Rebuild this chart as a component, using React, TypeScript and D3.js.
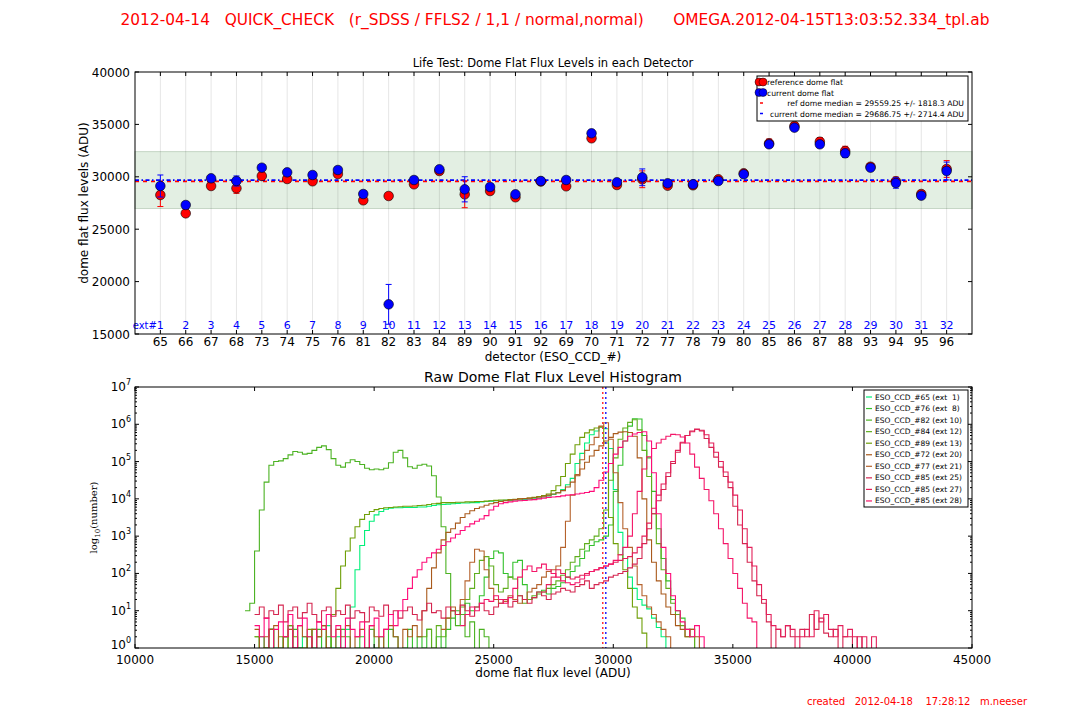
import React from 'react';
import * as d3 from 'd3';

// ---------- top panel data ----------
const detectors = [65, 66, 67, 68, 73, 74, 75, 76, 81, 82, 83, 84, 89, 90, 91, 92, 69, 70, 71, 72, 77, 78, 79, 80, 85, 86, 87, 88, 93, 94, 95, 96];
const extNums = [1, 2, 3, 4, 5, 6, 7, 8, 9, 10, 11, 12, 13, 14, 15, 16, 17, 18, 19, 20, 21, 22, 23, 24, 25, 26, 27, 28, 29, 30, 31, 32];
const refFlux = [28263, 26514, 29122, 28900, 30077, 29790, 29570, 30267, 27757, 28168, 29284, 30553, 28330, 28645, 28044, 29550, 29093, 33673, 29217, 29762, 29150, 29188, 29762, 30335, 33197, 34847, 33350, 32462, 30965, 29570, 28358, 30745];
const refErr = [1100, 120, 200, 480, 200, 200, 150, 200, 200, 200, 200, 150, 1280, 250, 200, 150, 250, 300, 300, 800, 250, 200, 250, 200, 400, 350, 400, 450, 300, 400, 300, 800];
const curFlux = [29122, 27309, 29855, 29600, 30870, 30425, 30172, 30649, 28358, 17830, 29695, 30715, 28807, 29027, 28330, 29600, 29695, 34150, 29475, 29952, 29380, 29284, 29600, 30240, 33100, 34690, 33100, 32242, 30870, 29410, 28200, 30553];
const curErr = [1050, 120, 200, 480, 200, 250, 150, 150, 250, 1900, 150, 150, 1200, 250, 200, 200, 200, 300, 250, 800, 200, 150, 200, 250, 300, 300, 300, 400, 300, 500, 300, 850];
const refMedian = 29559.25;
const refStd = 1818.3;
const curMedian = 29686.75;
const curStd = 2714.4;
const topYTicks = [15000, 20000, 25000, 30000, 35000, 40000];

// ---------- histogram data (log10 of counts, 200 ADU bins; -1 = empty bin) ----------
const BIN = 200;
const h65 = [-1, 0.3, -1, 0.5, 0, -1, 0.3, 0.6, -1, 0, 0.3, -1, 0.5, 0.3, -1, 0.6, 0, 0.3, -1, 0.5,
  1.1, 2.1, 2.75, 3.15, 3.4, 3.57, 3.66, 3.72, 3.75, 3.76, 3.76, 3.77, 3.77, 3.77, 3.78, 3.78, 3.8, 3.82, 3.84, 3.85,
  3.86, 3.87, 3.88, 3.89, 3.89, 3.9, 3.9, 3.92, 3.93, 3.94, 3.95, 3.95, 3.96, 3.96, 3.97, 3.97, 3.98, 3.99, 4.0, 4.02,
  4.05, 4.08, 4.12, 4.17, 4.25, 4.38, 4.55, 4.95, 5.22, 5.5, 5.72, 5.82, 5.92, 5.88, 5.35, 4.25, 3.1, 2.4, 1.9, 1.6,
  1.3, 1.15, 1.05, 0.8, 0.55, 0.3, -1];
const h76 = [0.3, -1, 0, 0.5, -1, 0, 0.3, -1, 0.5, 0, -1, 0.3, 0, 0.5, -1, 0.3, -1, 0, 0.5, 0.3,
  -1, 0, 0.3, -1, 0.5, 0, 0.3, -1, 0.5, 0.3, -1, 0, 0.5, -1, 0.3, 0, 0.5, -1, 0.3, 0,
  0.5, 0.8, 1.0, 0.9, 1.2, 1.0, 1.1, 1.4, 1.9, 2.4, 2.6, 2.55, 2.0, 1.9, 2.3, 2.35, 1.7, 1.3, 1.35, 1.5,
  1.55, 1.45, 1.6, 1.65, 1.75, 1.9, 2.05, 2.2, 2.4, 2.6, 2.75, 2.85, 2.9, 3.0, 3.3, 4.2, 4.9, 5.55, 5.95, 6.15,
  6.14, 5.7, 5.1, 4.2, 3.2, 2.4, 1.8, 1.3, 1.0, 0.8, 0.5, 0.3, -1];
const h82 = [1.0, 1.2, 2.6, 3.7, 4.45, 4.9, 5.0, 5.02, 5.08, 5.18, 5.27, 5.25, 5.2, 5.22, 5.3, 5.38, 5.42, 5.32, 5.08, 4.9,
  4.85, 4.97, 5.05, 5.0, 4.92, 4.82, 4.78, 4.8, 4.78, 4.82, 4.97, 5.25, 5.3, 5.1, 4.86, 4.82, 4.9, 4.93, 4.88, 4.62,
  4.05, 3.25, 2.0, 1.0, 0.6, 0.9, 0.3, 0.7, -1, 0.5, 0.3, -1];
const h84 = [0.3, 0.5, 0, 0.6, 0.3, 0.8, 1.0, 0.9, 1.1, 1.3, 1.6, 2.0, 2.35, 2.45, 2.2, 1.7, 1.5, 1.6, 1.9, 1.85,
  1.4, 1.2, 1.3, 1.4, 1.45, 1.5, 1.6, 1.7, 1.8, 1.95, 2.1, 2.3, 2.45, 2.65, 2.8, 2.9, 3.0, 3.2, 3.7, 4.5,
  5.1, 5.6, 5.9, 6.05, 6.12, 5.85, 5.3, 4.6, 3.6, 2.8, 2.1, 1.6, 1.2, 0.9, 0.6, 0.3, 0.5, -1];
const h89 = [0.3, -1, 0, 0.5, -1, 0.3, -1, 0.6, 0.3, -1, 0, 0.5, -1, 0.3, 0.6, -1,
  0.9, 1.6, 2.2, 2.6, 2.95, 3.25, 3.45, 3.58, 3.66, 3.71, 3.74, 3.76, 3.77, 3.78, 3.79, 3.8, 3.8, 3.81, 3.82, 3.83,
  3.85, 3.87, 3.88, 3.9, 3.9, 3.9, 3.91, 3.91, 3.92, 3.92, 3.93, 3.93, 3.94, 3.95, 3.96, 3.97, 3.97, 3.98, 3.99, 4.0,
  4.01, 4.02, 4.04, 4.06, 4.09, 4.13, 4.22, 4.35, 4.6, 4.95, 5.2, 5.45, 5.65, 5.77, 5.85, 5.9, 5.93, 5.5, 3.5, 2.8,
  2.5, 2.1, 1.6, 1.1, 0.8, 0.4, -1];
const h72 = [0.5, -1, 0.3, 0.5, 0.6, -1, 0.3, 0.5, 0, 0.6, 0.3, -1, 0.5, 0.3, 0.6, 0, -1, 0.5, 0.3, 0.6,
  -1, 0.3, 0.5, 0, 0.6, 0.3, -1, 0.5, 0.6, 0.3, -1, 0.5, 0.3, 0.6, 0.3,
  1.0, 1.6, 2.15, 2.55, 2.9, 3.1, 3.2, 3.35, 3.5, 3.6, 3.68, 3.74, 3.78, 3.83, 3.87, 3.9, 3.93, 3.95, 3.97, 3.98,
  4.0, 4.01, 4.02, 4.03, 4.05, 4.07, 4.1, 4.13, 4.16, 4.22, 4.32, 4.45, 4.62, 4.8, 4.98, 5.15, 5.3, 5.42, 5.55, 5.65,
  5.75, 5.79, 5.8, 5.78, 5.68, 5.1, 4.0, 2.9, 2.3, 1.8, 1.45, 1.1, 0.9, 0.6, 0.5, 0.3, 0.5, 0.3, -1];
const h77 = [0.5, 0.8, 1.1, 0.9, 1.3, 1.8, 2.3, 2.65, 2.6, 2.1, 1.6, 1.3, 1.2, 1.25, 1.4, 1.3, 1.2, 1.3, 1.5, 1.6,
  1.7, 1.9, 2.05, 2.1, 2.2, 2.7, 3.4, 4.1, 4.65, 5.05, 5.3, 5.45, 5.65, 5.95, 6.04, 5.6, 4.7, 3.9, 3.2, 2.7,
  2.2, 1.7, 1.4, 1.1, 0.9, 0.7, 0.5, 0.3, -1];
const h85a = [0.9, 1.1, 0.8, 1.0, 0.9, 1.15, 0.7, 1.0, 1.1, 0.8, 0.95, 1.2, 0.9, 0.7, 1.0, 1.1, 0.85, 1.0, 0.9, 1.15,
  0.8, 1.0, 0.95, 0.7, 1.1, 1.0, 0.85, 1.15, 0.9, 1.0, 0.8, 1.0, 1.1, 0.9, 0.75, 1.0, 1.2, 0.95, 1.0, 0.8,
  1.1, 1.0, 0.9, 1.15, 1.0, 0.85, 1.1, 1.2, 1.0, 0.9, 1.1, 1.2, 1.3, 1.1, 1.25, 1.4, 1.3, 1.2, 1.35, 1.5,
  1.4, 1.3, 1.45, 1.5, 1.6, 1.55, 1.5, 1.65, 1.7, 1.8,
  1.6, 1.7, 1.75, 1.8, 1.9, 1.95, 2.0, 2.05, 2.15, 2.25, 2.4, 2.8, 3.2, 3.6, 3.95, 4.25, 4.6, 4.95, 5.25, 5.5,
  5.7, 5.82, 5.87, 5.82, 5.62, 5.38, 5.12, 4.85, 4.6, 4.3, 3.8, 3.3, 2.8, 2.3, 1.8, 1.4, 1.2, 0.7, -1, 0.5,
  0.3, 0.6, 0.3, 0.3, 0.5, 0.3, 0.9, 0.5, 0.8, 0.4, 0.3, 0.5, -1, 0.3, 0.3, -1, 0.3, -1];
const h85b = [1.5, 1.7, 1.9, 2.1, 2.0, 1.9, 1.85, 1.9, 1.95, 2.0, 2.05, 2.1, 2.15, 2.2, 2.25, 2.3, 2.35, 2.4, 2.45, 2.55,
  2.7, 3.0, 3.35, 3.75, 4.1, 4.4, 4.7, 5.0, 5.3, 5.52, 5.7, 5.8, 5.86, 5.84, 5.72, 5.5, 5.25, 5.0, 4.72, 4.45,
  4.1, 3.7, 3.2, 2.7, 2.2, 1.7, 1.3, 0.9, 0.6, 0.5, 0.3, 0.6, 0.5, -1, 0.3, 0.5, 0.3, 1.0, 0.7, 0.9,
  0.5, 0.3, 0.6, 0.3, 0.5, 0.3, -1, 0.3, -1, 0.3, -1];
const h85c = [0.6, 0.9, 1.1, 1.0, 1.2, 1.3, 1.25, 1.4, 1.3, 1.2, 1.35, 1.6, 1.9, 2.1, 2.2, 2.05, 2.15, 2.25, 2.1, 2.0,
  1.9, 1.8, 1.75, 1.7, 1.75, 1.85, 1.95, 2.05, 2.1, 2.15, 2.2, 2.25, 2.35, 2.5, 2.7, 3.0, 3.6, 4.2, 4.8, 5.13,
  5.35, 5.5, 5.6, 5.68, 5.73, 5.72, 5.66, 5.5, 5.2, 4.85, 4.55, 4.25, 3.95, 3.6, 3.2, 2.8, 2.4, 2.0, 1.6, 1.2,
  0.8, 0.7, -1];
const hPink = [0.6, 0.3, 0.8, -1, 0.5, 0.7, 0.3, 0.9, 0, 0.6, 0.8, 0.3, -1, 0.7, 0.5, 0.9, 0.3, 0.6, 0, 0.8,
  0.5, 0.3, 0.7, -1, 0.6, 0.8, 0.3, 0.5, 0.9, 0.6,
  1.0, 1.3, 1.6, 1.9, 2.1, 2.3, 2.42, 2.55, 2.65, 2.75, 2.85, 2.95, 3.05, 3.15, 3.25, 3.33, 3.4, 3.46, 3.55, 3.7,
  3.8, 3.87, 3.9, 3.92, 3.94, 3.95, 3.96, 3.97, 3.98, 4.0, 4.02, 4.04, 4.05, 4.06, 4.08, 4.1, 4.11, 4.13, 4.15, 4.17,
  4.2, 4.3, 4.5, 4.72, 4.95, 5.2, 5.38, 5.55, 5.68, 5.74, 5.78, 5.8, 5.55, 4.7, 3.6, 2.7, 2.0, 1.4, 1.0, 0.7,
  0.5, 0.3, 0.6, 0.3, -1];

const histSeries = [
  { label: 'ESO_CCD_#65 (ext  1)', start: 15000, logs: h65, color: '#00f07a' },
  { label: 'ESO_CCD_#76 (ext  8)', start: 15000, logs: h76, color: '#33c12c' },
  { label: 'ESO_CCD_#82 (ext 10)', start: 14600, logs: h82, color: '#4bb222' },
  { label: 'ESO_CCD_#84 (ext 12)', start: 22000, logs: h84, color: '#5fae1e' },
  { label: 'ESO_CCD_#89 (ext 13)', start: 15000, logs: h89, color: '#6f9f08' },
  { label: 'ESO_CCD_#72 (ext 20)', start: 15000, logs: h72, color: '#a95a1c' },
  { label: 'ESO_CCD_#77 (ext 21)', start: 22800, logs: h77, color: '#b5622c' },
  { label: 'ESO_CCD_#85 (ext 25)', start: 15000, logs: h85a, color: '#d52650' },
  { label: 'ESO_CCD_#85 (ext 27)', start: 27000, logs: h85b, color: '#e3205a' },
  { label: 'ESO_CCD_#85 (ext 28)', start: 23600, logs: h85c, color: '#f41668' },
  { label: '', start: 15000, logs: hPink, color: '#ff0a78' },
];
const botXTicks = [10000, 15000, 20000, 25000, 30000, 35000, 40000, 45000];
const botYDecades = [0, 1, 2, 3, 4, 5, 6, 7];

const FONT = "'DejaVu Sans', sans-serif";
const L = 135, R = 972;
const T1 = 72, B1 = 334, T2 = 387, B2 = 648;

const topX = d3.scaleLinear().domain([0, 33]).range([L, R]);
const topY = d3.scaleLinear().domain([15000, 40000]).range([B1, T1]);
const botX = d3.scaleLinear().domain([10000, 45000]).range([L, R]);
const botY = d3.scaleLinear().domain([0, 7]).range([B2, T2]);

const stepLine = d3.line<[number, number]>()
  .x(d => botX(d[0]))
  .y(d => botY(d[1]))
  .curve(d3.curveStepAfter);

function histPath(start: number, logs: number[]) {
  const pts: [number, number][] = logs.map((v, i) => [start + i * BIN, v]);
  pts.push([start + logs.length * BIN, logs[logs.length - 1]]);
  return stepLine(pts) || '';
}

function ErrPoints({ vals, errs, color }: { vals: number[]; errs: number[]; color: string }) {
  return (
    <g>
      {vals.map((v, i) => {
        const x = topX(i + 1);
        const y0 = topY(v - errs[i]);
        const y1 = topY(v + errs[i]);
        return (
          <g key={i}>
            <line x1={x} x2={x} y1={y0} y2={y1} stroke={color} strokeWidth={1} />
            <line x1={x - 3} x2={x + 3} y1={y0} y2={y0} stroke={color} strokeWidth={1} />
            <line x1={x - 3} x2={x + 3} y1={y1} y2={y1} stroke={color} strokeWidth={1} />
            <circle cx={x} cy={topY(v)} r={4.8} fill={color} stroke="#000" strokeWidth={0.6} />
          </g>
        );
      })}
    </g>
  );
}

export default function App() {
  const minorTicks: number[] = [];
  for (let n = 0; n < 7; n++) for (let k = 2; k <= 9; k++) minorTicks.push(n + Math.log10(k));

  return (
    <div style={{ position: 'absolute', left: 0, top: 0 }}>
      <svg width={1080} height={720} style={{ display: 'block', background: '#fff', fontFamily: FONT }}>
        <defs>
          <clipPath id="botClip"><rect x={L} y={T2} width={R - L} height={B2 - T2} /></clipPath>
        </defs>
        <text x={555} y={25} textAnchor="middle" fontSize={15.4} fill="#ff0000" style={{ whiteSpace: 'pre' }}>
          {'2012-04-14   QUICK_CHECK   (r_SDSS / FFLS2 / 1,1 / normal,normal)      OMEGA.2012-04-15T13:03:52.334_tpl.ab'}
        </text>

        {/* ---------- top panel ---------- */}
        <rect x={L} y={T1} width={R - L} height={B1 - T1} fill="#fff" />
        <rect x={L} y={topY(curMedian + curStd)} width={R - L}
          height={topY(curMedian - curStd) - topY(curMedian + curStd)}
          fill="#e3efe3" stroke="#c5d5c5" strokeWidth={1} />
        {extNums.map((e, i) => (
          <line key={e} x1={topX(i + 1)} x2={topX(i + 1)} y1={T1} y2={B1} stroke="#000" strokeOpacity={0.1} strokeWidth={1} />
        ))}
        <line x1={L} x2={R} y1={topY(refMedian)} y2={topY(refMedian)} stroke="#ff0000" strokeWidth={1.6} strokeDasharray="4,4" />
        <line x1={L} x2={R} y1={topY(curMedian)} y2={topY(curMedian)} stroke="#0000ff" strokeWidth={1.6} strokeDasharray="4,2.5,1.5,2.5" />
        <ErrPoints vals={refFlux} errs={refErr} color="#ff0000" />
        <ErrPoints vals={curFlux} errs={curErr} color="#0000ff" />
        {extNums.map((e, i) => (
          <text key={e} x={topX(i + 1)} y={329} textAnchor="middle" fontSize={11} fill="#0000ff">{e}</text>
        ))}
        <text x={topX(1) - 3.5} y={329} textAnchor="end" fontSize={10} fill="#0000ff">ext#</text>
        <rect x={L} y={T1} width={R - L} height={B1 - T1} fill="none" stroke="#000" strokeWidth={1} />
        {detectors.map((d, i) => (
          <g key={i}>
            <line x1={topX(i + 1)} x2={topX(i + 1)} y1={B1} y2={B1 - 4} stroke="#000" />
            <line x1={topX(i + 1)} x2={topX(i + 1)} y1={T1} y2={T1 + 4} stroke="#000" />
            <text x={topX(i + 1)} y={346} textAnchor="middle" fontSize={12}>{d}</text>
          </g>
        ))}
        {topYTicks.map(t => (
          <g key={t}>
            <line x1={L} x2={L + 4} y1={topY(t)} y2={topY(t)} stroke="#000" />
            <line x1={R} x2={R - 4} y1={topY(t)} y2={topY(t)} stroke="#000" />
            <text x={L - 5} y={topY(t) + 4.5} textAnchor="end" fontSize={12}>{t}</text>
          </g>
        ))}
        <text x={553} y={67} textAnchor="middle" fontSize={11.5}>Life Test: Dome Flat Flux Levels in each Detector</text>
        <text x={553} y={361} textAnchor="middle" fontSize={12}>detector (ESO_CCD_#)</text>
        <text transform={`translate(88,${(T1 + B1) / 2}) rotate(-90)`} textAnchor="middle" fontSize={12}>dome flat flux levels (ADU)</text>

        {/* top legend */}
        <g>
          <rect x={757} y={76} width={211} height={45} fill="#fff" stroke="#000" strokeWidth={1} />
          <circle cx={759} cy={82} r={4} fill="#ff0000" stroke="#000" strokeWidth={0.5} />
          <circle cx={763} cy={82} r={4} fill="#ff0000" stroke="#000" strokeWidth={0.5} />
          <text x={767} y={85} fontSize={7.7}>reference dome flat</text>
          <circle cx={759} cy={92.5} r={4} fill="#0000ff" stroke="#000" strokeWidth={0.5} />
          <circle cx={763} cy={92.5} r={4} fill="#0000ff" stroke="#000" strokeWidth={0.5} />
          <text x={767} y={95.5} fontSize={7.7}>current dome flat</text>
          <line x1={760} x2={763} y1={103} y2={103} stroke="#ff0000" strokeWidth={1.5} />
          <text x={964} y={106} fontSize={7.7} textAnchor="end">{`ref dome median = ${refMedian.toFixed(2)} +/- ${refStd.toFixed(1)} ADU`}</text>
          <line x1={760} x2={763} y1={113.5} y2={113.5} stroke="#0000ff" strokeWidth={1.5} />
          <text x={964} y={116.5} fontSize={7.7} textAnchor="end">{`current dome median = ${curMedian.toFixed(2)} +/- ${curStd.toFixed(1)} ADU`}</text>
        </g>

        {/* ---------- bottom panel ---------- */}
        <g clipPath="url(#botClip)">
          {histSeries.map((s, i) => (
            <path key={i} d={histPath(s.start, s.logs)} fill="none" stroke={s.color} strokeWidth={1.1} />
          ))}
          <line x1={botX(refMedian)} x2={botX(refMedian)} y1={T2} y2={B2} stroke="#ff3333" strokeWidth={1.5} strokeDasharray="2,3" />
          <line x1={botX(curMedian)} x2={botX(curMedian)} y1={T2} y2={B2} stroke="#2222ff" strokeWidth={1.5} strokeDasharray="2,3" />
        </g>
        <rect x={L} y={T2} width={R - L} height={B2 - T2} fill="none" stroke="#000" strokeWidth={1} />
        {botXTicks.map(t => (
          <g key={t}>
            <line x1={botX(t)} x2={botX(t)} y1={B2} y2={B2 - 4} stroke="#000" />
            <line x1={botX(t)} x2={botX(t)} y1={T2} y2={T2 + 4} stroke="#000" />
            <text x={botX(t)} y={664} textAnchor="middle" fontSize={12}>{t}</text>
          </g>
        ))}
        {botYDecades.map(n => (
          <g key={n}>
            <line x1={L} x2={L + 4} y1={botY(n)} y2={botY(n)} stroke="#000" />
            <line x1={R} x2={R - 4} y1={botY(n)} y2={botY(n)} stroke="#000" />
            <text x={L - 4} y={botY(n) + (n === 0 ? 1 : 4)} textAnchor="end" fontSize={12}>
              10<tspan fontSize={8} dy={-6}>{n}</tspan>
            </text>
          </g>
        ))}
        {minorTicks.map((m, i) => (
          <g key={i}>
            <line x1={L} x2={L + 2} y1={botY(m)} y2={botY(m)} stroke="#000" />
            <line x1={R} x2={R - 2} y1={botY(m)} y2={botY(m)} stroke="#000" />
          </g>
        ))}
        <text x={553} y={382} textAnchor="middle" fontSize={14}>Raw Dome Flat Flux Level Histogram</text>
        <text x={553} y={677} textAnchor="middle" fontSize={12}>dome flat flux level (ADU)</text>
        <text transform={`translate(97,${(T2 + B2) / 2}) rotate(-90)`} textAnchor="middle" fontSize={10} fontFamily="'DejaVu Serif', serif">
          log<tspan fontSize={7} dy={2.5}>10</tspan><tspan dy={-2.5}>(number)</tspan>
        </text>

        {/* bottom legend */}
        <g>
          <rect x={864} y={390} width={104} height={117} fill="#fff" stroke="#000" strokeWidth={1} />
          {histSeries.filter(s => s.label).map((s, i) => (
            <g key={i}>
              <line x1={866} x2={872} y1={397 + i * 11.55} y2={397 + i * 11.55} stroke={s.color} strokeWidth={1.2} />
              <text x={875} y={399.5 + i * 11.55} fontSize={7.5} style={{ whiteSpace: 'pre' }}>{s.label}</text>
            </g>
          ))}
        </g>

        <text x={1027} y={705} textAnchor="end" fontSize={10} fill="#ff0000" style={{ whiteSpace: 'pre' }}>
          {'created   2012-04-18    17:28:12   m.neeser'}
        </text>
      </svg>
    </div>
  );
}
